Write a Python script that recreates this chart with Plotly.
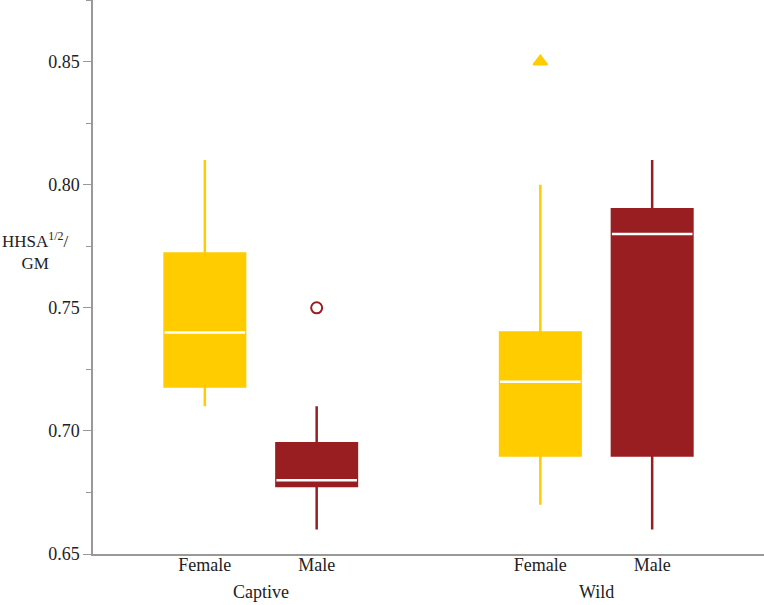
import plotly.graph_objects as go

# Data
groups = ["Captive", "Captive", "Wild", "Wild"]
sexes = ["Female", "Male", "Female", "Male"]
x_pos = [1, 2, 4, 5]
lower = [0.710, 0.660, 0.670, 0.660]
q1 = [0.718, 0.6776, 0.690, 0.690]
median = [0.740, 0.680, 0.720, 0.780]
q3 = [0.772, 0.695, 0.740, 0.790]
upper = [0.810, 0.710, 0.800, 0.810]
outlier_x = [2, 4]
outlier_y = [0.750, 0.850]
outlier_symbol = ["circle-open", "triangle-up"]
colors = {"Female": "#FFCC00", "Male": "#991E22"}
group_labels = ["Captive", "Wild"]
group_centers = [1.5, 4.5]
y_ticks = [0.65, 0.70, 0.75, 0.80, 0.85]

BOX_W = 0.72
font = "Liberation Serif, Times New Roman, serif"
FS = 18

fig = go.Figure()
for i in range(len(x_pos)):
    c = colors[sexes[i]]
    fig.add_trace(go.Box(
        x=[x_pos[i]], q1=[q1[i]], median=[median[i]], q3=[q3[i]],
        lowerfence=[lower[i]], upperfence=[upper[i]],
        width=BOX_W, fillcolor=c, line=dict(color=c, width=2.5),
        whiskerwidth=0, boxpoints=False, showlegend=False, hoverinfo="skip",
    ))
    fig.add_trace(go.Scatter(
        x=[x_pos[i] - BOX_W / 2, x_pos[i] + BOX_W / 2],
        y=[median[i], median[i]], mode="lines",
        line=dict(color="white", width=2.5), showlegend=False, hoverinfo="skip",
    ))

for xo, yo, sym in zip(outlier_x, outlier_y, outlier_symbol):
    sex = sexes[x_pos.index(xo)]
    c = colors[sex]
    fig.add_trace(go.Scatter(
        x=[xo], y=[yo], mode="markers",
        marker=dict(symbol=sym, size=11 if sym == "circle-open" else 12, color=c,
                    line=dict(color=c, width=2)),
        showlegend=False, hoverinfo="skip",
    ))

for lbl, cx in zip(group_labels, group_centers):
    fig.add_annotation(x=cx, y=0, xref="x", yref="paper", yshift=-38,
                       text=lbl, showarrow=False, yanchor="middle",
                       font=dict(family=font, size=FS, color="#222"))

fig.add_annotation(x=-0.1386, y=0.773, xref="paper", yref="y", xanchor="left",
                   text="HHSA<sup>1/2</sup>/<br>GM", showarrow=False, align="center",
                   font=dict(family=font, size=17, color="#222"))

fig.update_layout(
    width=764, height=605,
    margin=dict(l=93, r=0, t=0, b=51),
    paper_bgcolor="white", plot_bgcolor="white",
    font=dict(family=font, size=FS, color="#222"),
    xaxis=dict(range=[0, 6], tickvals=x_pos, ticktext=sexes, showgrid=False,
               zeroline=False, showline=True, linecolor="#999", linewidth=1.5,
               ticks="", ticklen=0, tickfont=dict(size=FS), ticklabelstandoff=-6),
    yaxis=dict(range=[0.65, 0.875], tickvals=y_ticks,
               ticktext=[f"{v:.2f}" for v in y_ticks], showgrid=False,
               zeroline=False, showline=True, linecolor="#999", linewidth=1.5,
               ticks="outside", ticklen=8, tickcolor="#999", tickwidth=1,
               minor=dict(tickvals=[0.675, 0.725, 0.775, 0.825, 0.875], ticks="outside",
                          ticklen=5, tickcolor="#999", tickwidth=1),
               tickfont=dict(size=FS)),
)

fig.write_html("out.html", config={"displayModeBar": False},
               post_script="document.body.style.margin='0';")
